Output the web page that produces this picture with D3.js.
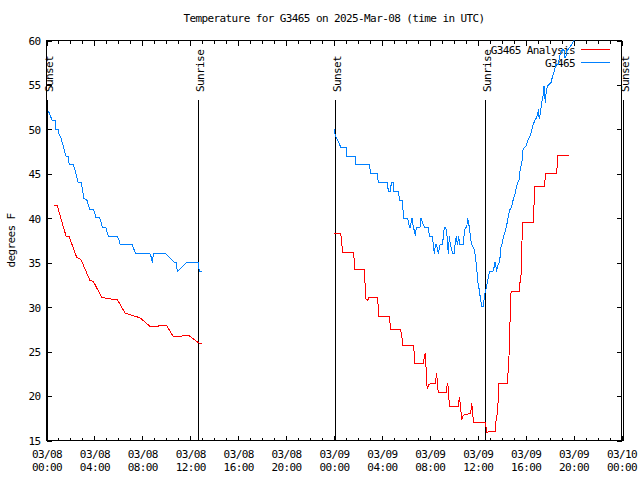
<!DOCTYPE html>
<html><head><meta charset="utf-8">
<script src="https://cdn.jsdelivr.net/npm/d3@7"></script>
<style>
body{margin:0;background:#fff}
svg{display:block}
text{font-family:"DejaVu Sans Mono",monospace;font-size:11px;letter-spacing:-0.6px;fill:#000}
</style>
</head><body>
<svg id="c" width="640" height="480"></svg>
<script>
// ---- data (hours since 2025-03-08 00:00 UTC, degrees F) ----
const chartTitle = "Temperature for G3465 on 2025-Mar-08 (time in UTC)";
const yAxisLabel = "degrees F";
const seriesNames = ["G3465 Analysis", "G3465"];
const seriesColors = ["#ff0000", "#0080ff"];
const yTickValues = [15, 20, 25, 30, 35, 40, 45, 50, 55, 60];
const majorTickHours = [0, 4, 8, 12, 16, 20, 24, 28, 32, 36, 40, 44, 48];
const sunsetHours = [0.08, 24.07, 48.1];
const sunriseHours = [12.67, 36.64];

const analysisDay1 = [[0.63,41.4],[0.90,41.4],[1.63,38.0],[1.90,37.9],[2.52,35.6],[2.86,35.4],[3.63,33.0],[3.91,32.9],[4.61,31.1],[5.16,30.95],[5.91,30.85],[6.55,29.35],[7.11,29.1],[7.81,28.8],[8.64,27.85],[9.33,27.85],[9.42,27.95],[10.03,27.95],[10.59,26.65],[11.09,26.65],[11.42,26.8],[11.90,26.8],[12.67,26.0],[12.96,25.9]];

const analysisDay2 = [[24.0,38.25],[24.56,38.32],[24.64,37.31],[24.72,36.12],[25.61,36.12],[25.70,35.18],[25.75,34.21],[26.53,34.21],[26.59,32.71],[26.67,30.95],[26.81,30.77],[26.92,31.14],[27.62,31.14],[27.70,30.02],[27.76,28.9],[28.62,28.9],[28.68,28.15],[28.73,27.47],[29.57,27.47],[29.68,26.46],[29.73,25.68],[30.62,25.68],[30.71,24.71],[30.76,23.66],[31.46,23.66],[31.54,24.41],[31.63,24.89],[31.68,23.28],[31.74,21.23],[31.82,20.85],[31.90,21.34],[32.46,21.41],[32.57,22.61],[32.63,21.41],[32.71,20.37],[33.35,20.4],[33.46,21.41],[33.54,21.04],[33.63,18.87],[34.38,18.87],[34.46,19.84],[34.52,19.36],[34.66,17.37],[34.80,17.86],[35.41,18.05],[35.49,19.24],[35.58,18.23],[35.63,17.04],[36.63,17.04],[36.69,16.48],[36.75,15.92],[37.02,15.99],[37.47,15.99],[37.52,17.1],[37.63,18.05],[37.72,19.73],[37.75,21.41],[38.47,21.41],[38.55,23.1],[38.61,24.59],[38.69,28.15],[38.75,31.51],[38.86,31.81],[39.47,31.81],[39.53,32.82],[39.61,33.5],[39.67,36.56],[39.75,39.56],[40.64,39.56],[40.70,41.56],[40.75,43.56],[41.59,43.56],[41.61,44.23],[41.67,45.09],[42.59,45.09],[42.64,46.1],[42.67,47.11],[43.59,47.11]];

const obsDay1 = [[0.15,52.1],[0.48,51.0],[0.71,51.0],[0.79,50.0],[0.99,50.0],[1.04,49.5],[1.19,49.1],[1.27,48.7],[1.40,48.2],[1.49,47.6],[1.63,47.0],[1.79,47.0],[1.90,46.0],[2.24,46.0],[2.35,45.6],[2.46,45.0],[2.57,44.4],[2.65,44.0],[2.91,44.0],[3.02,43.1],[3.11,42.2],[3.36,42.1],[3.46,41.6],[3.63,41.0],[3.91,41.0],[4.02,40.6],[4.13,40.1],[4.41,40.1],[4.55,39.6],[4.66,39.0],[4.94,39.0],[5.16,38.0],[5.91,38.0],[6.08,37.5],[6.16,37.0],[7.16,37.0],[7.33,36.4],[7.45,36.0],[8.64,36.0],[8.75,35.6],[8.83,35.0],[8.92,36.0],[9.98,36.0],[10.70,35.0],[10.84,35.0],[10.92,34.0],[11.65,35.0],[12.67,35.0],[12.73,34.3],[12.81,34.0],[12.96,34.0]];

const obsDay2 = [[24.03,50.0],[24.11,49.3],[24.31,48.8],[24.50,48.2],[24.56,48.0],[25.00,48.0],[25.06,47.0],[25.75,47.0],[25.84,46.0],[26.95,46.0],[27.01,45.5],[27.06,45.0],[27.62,45.0],[27.70,44.0],[28.45,44.0],[28.54,43.0],[28.68,43.0],[28.73,43.5],[28.81,44.0],[28.95,44.0],[29.01,43.0],[29.37,43.0],[29.43,42.5],[29.51,42.0],[29.68,42.0],[29.73,41.5],[29.79,40.5],[29.84,40.0],[30.15,40.0],[30.23,39.5],[30.29,39.0],[30.40,39.0],[30.43,39.5],[30.51,40.0],[30.57,39.5],[30.62,39.0],[30.71,38.6],[30.79,38.0],[30.87,39.0],[31.18,39.0],[31.26,40.0],[31.40,39.5],[31.54,39.0],[31.87,39.0],[31.96,38.0],[32.18,38.0],[32.24,37.6],[32.29,37.0],[32.38,36.0],[32.46,37.0],[32.57,37.0],[32.71,36.0],[32.77,36.5],[32.85,37.0],[33.04,37.0],[33.13,37.9],[33.21,39.0],[33.32,39.0],[33.41,38.4],[33.54,36.0],[33.63,38.0],[33.71,37.0],[33.82,36.5],[33.91,36.0],[34.05,36.0],[34.10,37.0],[34.21,38.0],[34.30,37.0],[34.41,38.0],[34.49,37.0],[34.80,37.0],[34.85,38.0],[34.96,39.0],[35.08,39.0],[35.16,40.0],[35.24,39.4],[35.30,39.0],[35.41,37.6],[35.52,37.0],[35.69,36.5],[35.77,36.0],[35.91,34.5],[35.99,33.0],[36.13,31.9],[36.22,31.0],[36.33,30.1],[36.47,30.1],[36.52,30.8],[36.58,31.5],[36.66,31.9],[36.75,32.45],[36.83,33.0],[36.91,33.4],[36.97,34.0],[37.25,34.0],[37.39,34.6],[37.44,35.1],[37.52,34.6],[37.58,34.0],[37.63,34.5],[37.80,35.1],[37.86,35.6],[37.91,36.6],[38.02,37.1],[38.08,37.5],[38.19,38.1],[38.30,38.6],[38.47,39.56],[38.64,40.87],[38.83,41.24],[38.97,42.18],[39.11,42.74],[39.19,43.3],[39.30,43.86],[39.47,44.42],[39.53,45.36],[39.61,45.92],[39.72,46.66],[39.75,47.6],[39.89,47.97],[40.03,48.16],[40.22,48.91],[40.31,49.1],[40.42,49.47],[40.53,50.03],[40.64,50.59],[40.78,51.04],[40.92,51.34],[41.00,51.9],[41.06,52.09],[41.14,51.15],[41.25,52.09],[41.33,53.02],[41.48,53.96],[41.53,54.89],[41.64,53.02],[41.70,53.96],[41.81,54.89],[41.98,55.08],[42.12,55.27],[42.25,56.02],[42.36,56.39],[42.45,56.95],[42.53,57.33],[42.73,57.33],[42.81,58.07],[42.92,58.63],[43.09,59.01],[43.23,58.82],[43.28,58.07],[43.37,58.26],[43.42,58.82],[43.56,59.01],[43.76,59.38],[43.93,59.76],[44.04,60.02],[44.15,60.5]];

// ---- drawing ----
const t0 = Date.UTC(2025, 2, 8);
const toDate = h => new Date(t0 + h * 3600e3);
const L = 46.5, R = 621.5, T = 40.5, B = 440.5;

const svg = d3.select("#c").attr("shape-rendering", "crispEdges");
const x = d3.scaleUtc().domain([toDate(0), toDate(48)]).range([L, R]);
const y = d3.scaleLinear().domain([15, 60]).range([B, T]);

const minorHours = d3.range(0, 49).filter(h => h % 4 !== 0);

// title
svg.append("text").attr("x", (L + R) / 2).attr("y", 22).attr("text-anchor", "middle").text(chartTitle);

// y label
svg.append("text").attr("transform", `translate(15,${(T + B) / 2}) rotate(-90)`)
  .attr("text-anchor", "middle").text(yAxisLabel);

// bottom axis (major with labels)
const fmtDate = d3.utcFormat("%m/%d"), fmtTime = d3.utcFormat("%H:%M");
const gB = svg.append("g").attr("transform", `translate(0,${B})`)
  .call(d3.axisBottom(x).tickValues(majorTickHours.map(toDate)).tickSize(-5).tickPadding(10).tickFormat(""));
gB.select(".domain").remove();
gB.selectAll(".tick text").each(function (d) {
  const t = d3.select(this);
  t.append("tspan").attr("x", 0).text(fmtDate(d));
  t.append("tspan").attr("x", 0).attr("dy", 13).text(fmtTime(d));
});
const gBm = svg.append("g").attr("transform", `translate(0,${B})`)
  .call(d3.axisBottom(x).tickValues(minorHours.map(toDate)).tickSize(-3).tickFormat(""));
gBm.select(".domain").remove();

// top axis
const gT = svg.append("g").attr("transform", `translate(0,${T})`)
  .call(d3.axisTop(x).tickValues(majorTickHours.map(toDate)).tickSize(-5).tickFormat(""));
gT.select(".domain").remove();
const gTm = svg.append("g").attr("transform", `translate(0,${T})`)
  .call(d3.axisTop(x).tickValues(minorHours.map(toDate)).tickSize(-3).tickFormat(""));
gTm.select(".domain").remove();

// left axis
const gL = svg.append("g").attr("transform", `translate(${L},0)`)
  .call(d3.axisLeft(y).tickValues(yTickValues).tickSize(-5).tickPadding(6).tickFormat(d3.format("d")));
gL.select(".domain").remove();
gL.selectAll(".tick text").attr("font-family", null).attr("font-size", null).attr("dy", "0.35em");

// right axis
const gR = svg.append("g").attr("transform", `translate(${R},0)`)
  .call(d3.axisRight(y).tickValues(yTickValues).tickSize(-5).tickFormat(""));
gR.select(".domain").remove();

gB.selectAll("text").attr("font-family", null).attr("font-size", null);
svg.selectAll(".tick line").attr("stroke", "#000");

// border
svg.append("rect").attr("x", L).attr("y", T).attr("width", R - L).attr("height", B - T)
  .attr("fill", "none").attr("stroke", "#000");

// sunrise / sunset markers
const events = sunsetHours.map(h => ({h, name: "Sunset"}))
  .concat(sunriseHours.map(h => ({h, name: "Sunrise"})));
events.forEach(e => {
  const xp = Math.round(x(toDate(e.h))) + 0.5;
  svg.append("line").attr("x1", xp).attr("x2", xp).attr("y1", 100).attr("y2", B).attr("stroke", "#000");
  svg.append("text").attr("transform", `translate(${xp + 5},92) rotate(-90)`)
    .attr("text-anchor", "start").text(e.name);
});

// legend
seriesNames.forEach((n, i) => {
  const ly = 49.5 + i * 13;
  svg.append("text").attr("x", 575).attr("y", ly + 4).attr("text-anchor", "end").text(n);
  svg.append("line").attr("x1", 581).attr("x2", 610).attr("y1", ly).attr("y2", ly)
    .attr("stroke", seriesColors[i]);
});

// data
svg.append("clipPath").attr("id", "clip").append("rect")
  .attr("x", L).attr("y", T).attr("width", R - L).attr("height", B - T);
const line = d3.line().x(d => x(toDate(d[0]))).y(d => y(d[1]));
const gD = svg.append("g").attr("clip-path", "url(#clip)");
[[analysisDay1, analysisDay2], [obsDay1, obsDay2]].forEach((segs, i) => {
  segs.forEach(s => gD.append("path").attr("d", line(s)).attr("fill", "none")
    .attr("stroke", seriesColors[i]).attr("stroke-width", 1));
});
</script>
</body></html>
